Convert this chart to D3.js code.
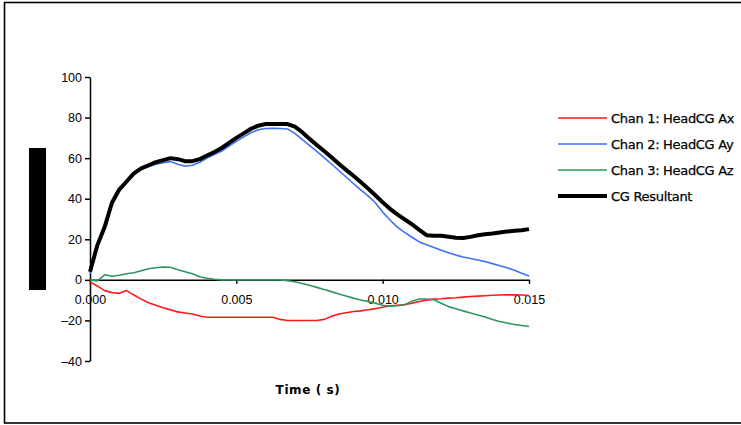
<!DOCTYPE html>
<html>
<head>
<meta charset="utf-8">
<script src="https://cdn.jsdelivr.net/npm/d3@7"></script>
<style>
  body { margin: 0; background: #fff; }
  svg { display: block; font-family: "DejaVu Sans", sans-serif; }
</style>
</head>
<body>
<div id="chart"></div>
<script>
// time samples (s), every 0.00025
var times = d3.range(61).map((k) => k * 0.00025);

var chan1 = [-1, -3, -5.3, -6.3, -6.6, -5.3, -7.5, -9.5, -11.3, -12.5,
  -13.8, -14.8, -15.8, -16.3, -16.8, -17.8, -18.4, -18.4, -18.4, -18.4,
  -18.4, -18.4, -18.4, -18.4, -18.4, -18.4, -19.5, -20, -20, -20,
  -20, -20, -19.5, -18, -16.8, -16.2, -15.6, -15.3, -14.7, -14.2,
  -13.5, -12.8, -12.5, -12.3, -11.5, -10.7, -10, -9.5, -9.3, -9,
  -8.8, -8.5, -8.2, -8, -7.8, -7.6, -7.5, -7.4, -7.4, -7.5, -7.7];

var chan2 = [3, 16.5, 25.5, 37.5, 44, 48, 52, 54.5, 55.8, 57,
  57.8, 58.3, 57, 56, 56.5, 58, 60, 61.8, 63.5, 66,
  68.3, 70.5, 72.5, 74, 74.6, 74.7, 74.6, 74.4, 72.2, 69.3,
  66.3, 63.3, 60.3, 57.1, 53.9, 50.7, 47.5, 44.4, 41.4, 38,
  33.4, 29.5, 26, 23.4, 21, 18.7, 17.3, 15.9, 14.6, 13.4,
  12.2, 11.3, 10.5, 9.8, 9, 8, 7, 6, 4.7, 3.3, 1.9];

var chan3 = [0, -0.5, 2.5, 1.8, 2.3, 3, 3.5, 4.5, 5.5, 6,
  6.3, 6.2, 5, 4, 3, 1.5, 0.8, 0.3, 0, 0,
  0, 0, 0, 0, 0, 0, 0, -0.4, -0.9, -1.8,
  -2.7, -3.7, -4.8, -5.8, -7, -8, -9, -9.9, -10.6, -11.5,
  -12.5, -13, -12.8, -12.3, -10.5, -9.4, -9.4, -9.8, -11.5, -13.2,
  -14.2, -15.3, -16.3, -17.3, -18.3, -19.5, -20.5, -21.3, -22, -22.5, -23];

var resultant = [4, 17, 26, 38, 44.5, 48.5, 52.5, 55, 56.5, 58,
  59, 60, 59.5, 58.5, 58.5, 59.5, 61.3, 63, 65, 67.5,
  70, 72.2, 74.5, 76, 76.8, 76.8, 76.8, 76.8, 75.5, 72.8,
  69.5, 66.5, 63.5, 60.4, 57.2, 54.2, 51.3, 48.2, 45, 41.7,
  38.2, 35, 32.3, 29.8, 27.4, 24.6, 22, 21.8, 21.7, 21.3,
  20.8, 20.6, 21.2, 22, 22.5, 22.8, 23.3, 23.8, 24.2, 24.5, 25];

var seriesNames = ["Chan 1: HeadCG Ax", "Chan 2: HeadCG Ay", "Chan 3: HeadCG Az", "CG Resultant"];
var seriesColors = ["#ff1a1a", "#3d72f5", "#2f9461", "#000000"];
var seriesWidths = [1.6, 1.6, 1.6, 4];
var seriesValues = [chan1, chan2, chan3, resultant];

var xTicks = [0, 0.005, 0.010, 0.015];
var yTicks = [-40, -20, 0, 20, 40, 60, 80, 100];

const width = 741;
const height = 425;

const svg = d3.select("#chart")
  .append("svg")
  .attr("width", width)
  .attr("height", height);

// outer frame
svg.append("rect")
  .attr("x", 4.5).attr("y", 2.5)
  .attr("width", 800).attr("height", 420.5)
  .attr("fill", "none")
  .attr("stroke", "#000")
  .attr("stroke-width", 1.6);

const x = d3.scaleLinear().domain([0, 0.015]).range([90, 529]);
const y = d3.scaleLinear().domain([-40, 100]).range([361, 77]);

// y axis
const yAxis = svg.append("g")
  .attr("transform", "translate(90,0)")
  .call(d3.axisLeft(y).tickValues(yTicks).tickSize(5).tickSizeOuter(0).tickFormat(d3.format("d")));
yAxis.select(".domain").attr("stroke-width", 1.5);
yAxis.selectAll(".tick line").attr("stroke-width", 1.5);
yAxis.selectAll("text")
  .attr("font-size", 12.5)
  .attr("fill", "#000")
  .text((d) => d < 0 ? "\u2013" + Math.abs(d) : d);

// x axis at y = 0
const xAxis = svg.append("g")
  .attr("transform", `translate(0,${y(0)})`)
  .call(d3.axisBottom(x).tickValues(xTicks).tickSize(4).tickSizeOuter(0).tickFormat(d3.format(".3f")));
xAxis.select(".domain").attr("stroke-width", 1.5);
xAxis.selectAll(".tick line").attr("stroke-width", 1.5);
xAxis.selectAll("text")
  .attr("font-size", 12.5)
  .attr("fill", "#000")
  .attr("dy", "1.4em");

// redacted axis title block
svg.append("rect")
  .attr("x", 29).attr("y", 148)
  .attr("width", 17).attr("height", 142)
  .attr("fill", "#000");

// x axis title
svg.append("text")
  .attr("x", 308).attr("y", 394)
  .attr("text-anchor", "middle")
  .attr("font-size", 12)
  .attr("font-weight", "bold")
  .attr("letter-spacing", 0.6)
  .text("Time ( s)");

// lines
const line = d3.line()
  .x((d, i) => x(times[i]))
  .y((d) => y(d));

seriesValues.forEach((vals, i) => {
  svg.append("path")
    .datum(vals)
    .attr("fill", "none")
    .attr("stroke", seriesColors[i])
    .attr("stroke-width", seriesWidths[i])
    .attr("stroke-linejoin", "round")
    .attr("d", line);
});

// legend
const legend = svg.append("g").attr("class", "legend");
seriesNames.forEach((name, i) => {
  const ly = 118 + i * 26;
  legend.append("line")
    .attr("x1", 558).attr("x2", 607)
    .attr("y1", ly).attr("y2", ly)
    .attr("stroke", seriesColors[i])
    .attr("stroke-width", seriesWidths[i]);
  legend.append("text")
    .attr("x", 611).attr("y", ly + 4.5)
    .attr("font-size", 13)
    .attr("letter-spacing", -0.3)
    .attr("stroke", "#000")
    .attr("stroke-width", 0.25)
    .text(name);
});
</script>
</body>
</html>
